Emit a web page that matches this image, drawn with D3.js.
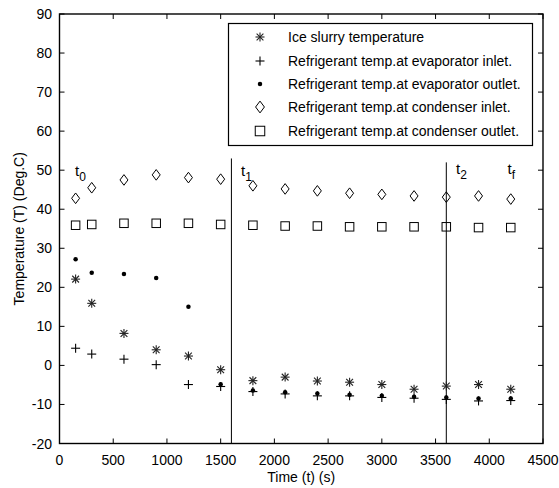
<!DOCTYPE html>
<html><head><meta charset="utf-8">
<script src="https://cdn.jsdelivr.net/npm/d3@7"></script>
<style>body{margin:0;background:#fff}text{font-family:"Liberation Sans",Arial,sans-serif;fill:#000}</style>
</head><body><svg id="c" width="559" height="488"></svg>
<script>
const times = [150,300,600,900,1200,1500,1800,2100,2400,2700,3000,3300,3600,3900,4200];
const iceSlurry = [22.1,15.9,8.2,4.0,2.4,-1.1,-3.9,-3.0,-4.0,-4.3,-4.9,-6.1,-5.3,-4.9,-6.1];
const evapInlet = [4.4,2.9,1.6,0.2,-4.9,-5.4,-6.7,-7.3,-7.8,-7.8,-8.2,-8.4,-8.7,-9.1,-9.0];
const evapOutlet = [27.2,23.7,23.4,22.4,15.0,-4.8,-6.4,-6.9,-7.2,-7.5,-7.8,-8.0,-8.2,-8.5,-8.5];
const condInlet = [42.8,45.5,47.5,48.8,48.1,47.7,46.0,45.2,44.7,44.1,43.8,43.4,43.1,43.4,42.6];
const condOutlet = [35.9,36.1,36.4,36.4,36.4,36.1,35.9,35.7,35.7,35.5,35.5,35.5,35.5,35.3,35.3];
const legendLabels = ["Ice slurry temperature","Refrigerant temp.at evaporator inlet.","Refrigerant temp.at evaporator outlet.","Refrigerant temp.at condenser inlet.","Refrigerant temp.at condenser outlet."];
const xTicks = [0,500,1000,1500,2000,2500,3000,3500,4000,4500];
const yTicks = [-20,-10,0,10,20,30,40,50,60,70,80,90];
const phaseLines = [{t:1600,top:53},{t:3600,top:52}];
const phaseLabels = [{t:144,v:48.6,main:"t",sub:"0"},{t:1690,v:48.6,main:"t",sub:"1"},{t:3690,v:48.9,main:"t",sub:"2"},{t:4170,v:48.9,main:"t",sub:"f"}];

const L=59.5,R=543,T=14,B=443.5;
const svg=d3.select("#c");
const x=d3.scaleLinear().domain([0,4500]).range([L,R]);
const y=d3.scaleLinear().domain([-20,90]).range([B,T]);

const g=svg.append("g");
xTicks.forEach(t=>{
  g.append("line").attr("x1",x(t)).attr("x2",x(t)).attr("y1",B).attr("y2",B-5).attr("stroke","#000");
  g.append("line").attr("x1",x(t)).attr("x2",x(t)).attr("y1",T).attr("y2",T+5).attr("stroke","#000");
  g.append("text").attr("x",x(t)).attr("y",465).attr("text-anchor","middle").attr("font-size",14).text(t);
});
yTicks.forEach(v=>{
  g.append("line").attr("x1",L).attr("x2",L+5).attr("y1",y(v)).attr("y2",y(v)).attr("stroke","#000");
  g.append("line").attr("x1",R).attr("x2",R-5).attr("y1",y(v)).attr("y2",y(v)).attr("stroke","#000");
  g.append("text").attr("x",52).attr("y",y(v)).attr("dy","0.36em").attr("text-anchor","end").attr("font-size",14).text(v);
});
svg.append("rect").attr("x",L).attr("y",T).attr("width",R-L).attr("height",B-T).attr("fill","none").attr("stroke","#000").attr("stroke-width",1.4);

phaseLines.forEach(p=>{
  svg.append("line").attr("x1",x(p.t)).attr("x2",x(p.t)).attr("y1",B).attr("y2",y(p.top)).attr("stroke","#000").attr("stroke-width",1);
});
phaseLabels.forEach(p=>{
  const tx=svg.append("text").attr("x",x(p.t)).attr("y",y(p.v)).attr("font-size",15);
  tx.append("tspan").text(p.main);
  tx.append("tspan").attr("dy",5).attr("font-size",12).text(p.sub);
});

function star(sel,cx,cy,s){
  const h=s/2,d=h*0.75;
  const p=sel.append("g").attr("stroke","#222").attr("stroke-width",1.1);
  p.append("line").attr("x1",cx-h).attr("x2",cx+h).attr("y1",cy).attr("y2",cy);
  p.append("line").attr("x1",cx).attr("x2",cx).attr("y1",cy-h).attr("y2",cy+h);
  p.append("line").attr("x1",cx-d).attr("x2",cx+d).attr("y1",cy-d).attr("y2",cy+d);
  p.append("line").attr("x1",cx-d).attr("x2",cx+d).attr("y1",cy+d).attr("y2",cy-d);
}
function plus(sel,cx,cy,s){
  const h=s/2;
  const p=sel.append("g").attr("stroke","#000").attr("stroke-width",1.1);
  p.append("line").attr("x1",cx-h).attr("x2",cx+h).attr("y1",cy).attr("y2",cy);
  p.append("line").attr("x1",cx).attr("x2",cx).attr("y1",cy-h).attr("y2",cy+h);
}
function dot(sel,cx,cy,s){ sel.append("circle").attr("cx",cx).attr("cy",cy).attr("r",s/4).attr("fill","#000"); }
function diamond(sel,cx,cy,s){
  const w=s*0.42,h=s*0.56;
  sel.append("path").attr("d",`M${cx},${cy-h}L${cx+w},${cy}L${cx},${cy+h}L${cx-w},${cy}Z`).attr("fill","none").attr("stroke","#000").attr("stroke-width",1);
}
function square(sel,cx,cy,s){
  const h=s/2;
  sel.append("rect").attr("x",cx-h).attr("y",cy-h).attr("width",s).attr("height",s).attr("fill","none").attr("stroke","#000").attr("stroke-width",1);
}
const series=[
  {vals:iceSlurry,fn:star,s:9},
  {vals:evapInlet,fn:plus,s:9},
  {vals:evapOutlet,fn:dot,s:9},
  {vals:condInlet,fn:diamond,s:9.5},
  {vals:condOutlet,fn:square,s:8.5}
];
const pts=svg.append("g");
[3,4,0,2,1].forEach(i=>{
  const sr=series[i];
  sr.vals.forEach((v,j)=>sr.fn(pts,x(times[j]),y(v),sr.s));
});

const lg=svg.append("g");
lg.append("rect").attr("x",228.5).attr("y",23.5).attr("width",304).attr("height",122).attr("fill","#fff").attr("stroke","#000").attr("stroke-width",1.2);
const rows=[37,61,84,107,131];
legendLabels.forEach((lab,i)=>{
  const sr=series[i];
  sr.fn(lg,260,rows[i],i===3?10.5:(i===4?9.5:sr.s));
  lg.append("text").attr("x",288).attr("y",rows[i]).attr("dy","0.36em").attr("font-size",14).text(lab);
});

svg.append("text").attr("x",x(2250)).attr("y",482).attr("text-anchor","middle").attr("font-size",14).text("Time (t) (s)");
svg.append("text").attr("transform",`translate(24,${(T+B)/2}) rotate(-90)`).attr("text-anchor","middle").attr("font-size",14).text("Temperature (T) (Deg.C)");
</script></body></html>
